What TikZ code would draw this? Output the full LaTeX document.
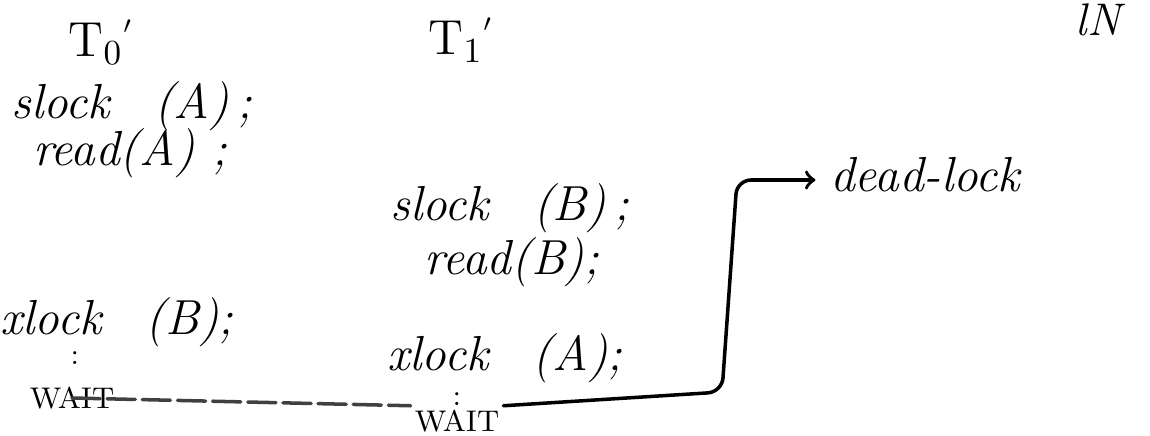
\documentclass[tikz,border=0pt]{standalone}
\usepackage{tikz}
\usetikzlibrary{arrows, positioning, calc}

\tikzset{
    hand/.style={font=\fontsize{14}{16}\selectfont\itshape, inner sep=1pt, anchor=center},
    title/.style={font=\fontsize{14}{16}\selectfont, inner sep=1pt},
    waitmark/.style={font=\fontsize{8.5}{10}\selectfont, inner sep=1pt},
    wire/.style={line width=1pt, line cap=round},
}

\begin{document}
\begin{tikzpicture}[x=0.01cm, y=-0.01cm]
    \useasboundingbox (0,0) rectangle (1150,436);

    % Transaction heads
    \node[title] (t0) at (100,42) {T$_0$\raisebox{1.1ex}{\scriptsize$\prime$}};
    \node[title] (t1) at (460,40) {T$_1$\raisebox{1.1ex}{\scriptsize$\prime$}};
    \node[hand, font=\fontsize{13}{15}\selectfont\itshape] (sig) at (1098,20) {lN};

    % T0 column
    \node[hand] (slocka) at (132,106) {slock\hspace{0.9em}(A)\,;};
    \node[hand] (reada) at (130,153) {read(A)\ ;};
    \node[hand] (xlockb) at (117,322) {xlock\hspace{0.9em}(B);};
    \node[waitmark, inner sep=0pt] (dots0) at (75,358) {:};
    \node[waitmark] (wait0) at (72,398) {WAIT};

    % T1 column
    \node[hand] (slockb) at (510,208) {slock\hspace{0.9em}(B)\,;};
    \node[hand] (readb) at (512,262) {read(B);};
    \node[hand] (xlocka) at (505,358) {xlock\hspace{0.9em}(A);};
    \node[waitmark, inner sep=0pt] (dots1) at (457,399) {:};
    \node[waitmark] (wait1) at (457,421) {WAIT};

    % Result
    \node[hand] (dead) at (925,175) {dead-lock};

    % Arrows
    \coordinate (turn) at (722,392);
    \coordinate (up) at (737,180);
    \draw[wire, dash pattern=on 8pt off 2pt, black!75] (wait0.center) -- (wait1.north west);
    \draw[wire, ->, rounded corners=4pt, shorten >=3pt] (wait1.north east) -- (turn) -- (up) -- (up -| dead.west);
\end{tikzpicture}
\end{document}
